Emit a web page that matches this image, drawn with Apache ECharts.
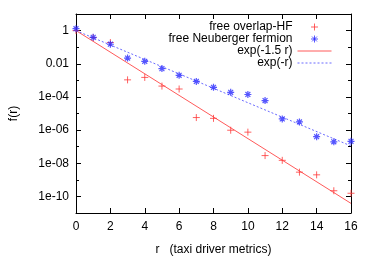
<!DOCTYPE html>
<html><head><meta charset="utf-8">
<script src="https://cdn.jsdelivr.net/npm/echarts@6/dist/echarts.min.js"></script>
<style>html,body{margin:0;padding:0;background:#fff}#c{width:371px;height:261px}</style>
</head><body><div id="c"></div>
<script>
// data
const r = [0,1,2,3,4,5,6,7,8,9,10,11,12,13,14,15,16];
const overlapHF = [1, 0.38, 0.19, 1.07e-3, 1.5e-3, 4.5e-4, 3.0e-4, 5.7e-6, 5.1e-6, 9.8e-7, 7.5e-7, 2.9e-8, 1.5e-8, 2.9e-9, 2.0e-9, 2.2e-10, 1.55e-10];
const neuberger = [1.3, 0.39, 0.15, 0.022, 0.014, 5.1e-3, 2.0e-3, 8.6e-4, 3.8e-4, 1.9e-4, 1.4e-4, 6.0e-5, 4.7e-6, 3.1e-6, 4.0e-7, 1.96e-7, 2.1e-7];
const fitR = [0, 16];
const exp15 = [1, 3.8e-11];
const exp1 = [1, 1.1e-7];
const yMajor = [1, 0.01, 1e-4, 1e-6, 1e-8, 1e-10];
const yMajorLabels = ['1', '0.01', '1e-04', '1e-06', '1e-08', '1e-10'];
const yMinor = [10, 0.1, 1e-3, 1e-5, 1e-7, 1e-9, 1e-11];
const seriesNames = ['free overlap-HF', 'free Neuberger fermion', 'exp(-1.5 r)', 'exp(-r)'];

const font = 'Liberation Sans';
const red = '#ff3a3a';
const blue = '#2a2aff';
const pts = (xs, ys) => xs.map((x, i) => [x, ys[i]]);
const fmtY = v => {
  const e = Math.round(Math.log10(v));
  for (let i = 0; i < yMajor.length; i++) {
    if (Math.round(Math.log10(yMajor[i])) === e) return yMajorLabels[i];
  }
  return '';
};
const plusPath = 'path://M0,5L10,5M5,0L5,10';
const starPath = 'path://M0,5L10,5M5,0L5,10M1.5,1.5L8.5,8.5M1.5,8.5L8.5,1.5';

const yBase = {type: 'log', logBase: 10, min: 1e-11, max: 10, splitLine: {show: false}};
const chart = echarts.init(document.getElementById('c'), null, {renderer: 'canvas'});
chart.setOption({
  animation: false,
  backgroundColor: '#fff',
  textStyle: {fontFamily: font},
  grid: {left: 76, right: 20, top: 14, bottom: 36, containLabel: false},
  legend: {
    data: [
      {name: seriesNames[0], icon: plusPath, itemStyle: {color: 'rgba(0,0,0,0)', borderColor: red, borderWidth: 1}},
      {name: seriesNames[1], icon: starPath, itemStyle: {color: 'rgba(0,0,0,0)', borderColor: blue, borderWidth: 1}},
      {name: seriesNames[2], itemStyle: {opacity: 0}, lineStyle: {width: 1, color: '#ff5a5a'}},
      {name: seriesNames[3], itemStyle: {opacity: 0}, lineStyle: {width: 1, color: '#6a6aff', type: [2, 2]}}
    ],
    orient: 'vertical',
    align: 'right',
    right: 34,
    top: 16,
    itemWidth: 34,
    itemHeight: 7,
    itemGap: 0,
    selectedMode: false,
    textStyle: {fontFamily: font, fontSize: 12, color: '#000', lineHeight: 12, height: 12}
  },
  xAxis: [
    {type: 'value', min: 0, max: 16, interval: 2, position: 'bottom',
     name: 'r   (taxi driver metrics)', nameLocation: 'middle', nameGap: 31,
     nameTextStyle: {fontFamily: font, fontSize: 12, color: '#000'},
     axisLine: {show: true, lineStyle: {color: '#000', width: 1}},
     axisTick: {show: true, inside: true, length: 5, lineStyle: {color: '#000'}},
     axisLabel: {fontFamily: font, fontSize: 12, color: '#000', margin: 8},
     splitLine: {show: false}},
    {type: 'value', min: 0, max: 16, interval: 2, position: 'top',
     axisLine: {show: true, lineStyle: {color: '#000', width: 1}},
     axisTick: {show: true, inside: true, length: 5, lineStyle: {color: '#000'}},
     axisLabel: {show: false}, splitLine: {show: false}}
  ],
  yAxis: [
    Object.assign({}, yBase, {position: 'left',
     name: 'f(r)', nameLocation: 'middle', nameGap: 56, nameRotate: 90,
     nameTextStyle: {fontFamily: font, fontSize: 12, color: '#000'},
     axisLine: {show: true, lineStyle: {color: '#000', width: 1}},
     axisTick: {show: true, inside: true, length: 5, customValues: yMajor, lineStyle: {color: '#000'}},
     axisLabel: {fontFamily: font, fontSize: 12, color: '#000', margin: 7, customValues: yMajor, formatter: fmtY}}),
    Object.assign({}, yBase, {position: 'left',
     axisLine: {show: false},
     axisTick: {show: true, inside: true, length: 3, customValues: yMinor, lineStyle: {color: '#000'}},
     axisLabel: {show: false}}),
    Object.assign({}, yBase, {position: 'right',
     axisLine: {show: true, lineStyle: {color: '#000', width: 1}},
     axisTick: {show: true, inside: true, length: 5, customValues: yMajor, lineStyle: {color: '#000'}},
     axisLabel: {show: false}}),
    Object.assign({}, yBase, {position: 'right',
     axisLine: {show: false},
     axisTick: {show: true, inside: true, length: 3, customValues: yMinor, lineStyle: {color: '#000'}},
     axisLabel: {show: false}})
  ],
  series: [
    {name: seriesNames[2], type: 'line', data: pts(fitR, exp15), symbol: 'none', silent: true,
     lineStyle: {color: '#ff5a5a', width: 1}, itemStyle: {color: '#ff5a5a'}, z: 2},
    {name: seriesNames[3], type: 'line', data: pts(fitR, exp1), symbol: 'none', silent: true,
     lineStyle: {color: '#6a6aff', width: 1, type: [2, 2]}, itemStyle: {color: '#6a6aff'}, z: 2},
    {name: seriesNames[0], type: 'scatter', data: pts(r, overlapHF), symbol: plusPath, symbolSize: 7,
     itemStyle: {color: 'rgba(0,0,0,0)', borderColor: red, borderWidth: 1}, z: 3},
    {name: seriesNames[1], type: 'scatter', data: pts(r, neuberger), symbol: starPath, symbolSize: 7,
     itemStyle: {color: 'rgba(0,0,0,0)', borderColor: blue, borderWidth: 1.2}, z: 4}
  ]
});
</script></body></html>
